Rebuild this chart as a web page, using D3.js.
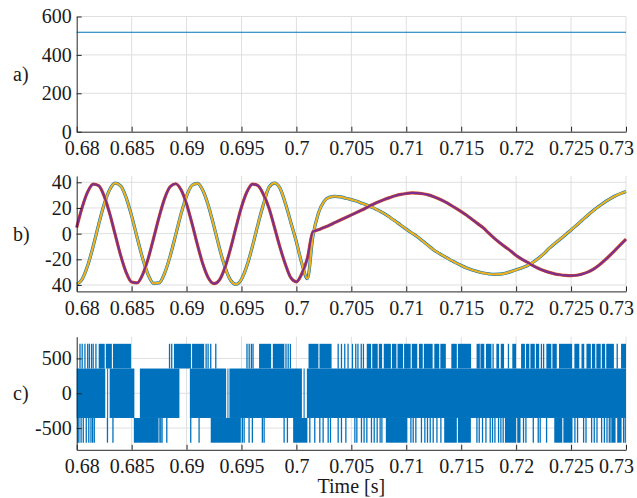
<!DOCTYPE html>
<html>
<head>
<meta charset="utf-8">
<script src="https://cdn.jsdelivr.net/npm/d3@7"></script>
<style>
  body { margin: 0; background: #fff; }
  svg { display: block; }
  svg text { font-family: "Liberation Serif", "Times New Roman", Times, serif; }
</style>
</head>
<body>
<div id="chart"></div>
<script>
// ---- shared x axis ----
const xTicks = [0.68, 0.685, 0.69, 0.695, 0.7, 0.705, 0.71, 0.715, 0.72, 0.725, 0.73];
const xTickLabels = ["0.68", "0.685", "0.69", "0.695", "0.7", "0.705", "0.71", "0.715", "0.72", "0.725", "0.73"];

// ---- a) dc link voltage ----
const dcTime = [0.68, 0.73];
const dcVoltage = [518, 518];
const aTicks = [0, 200, 400, 600];
const aTickLabels = ["0", "200", "400", "600"];

// ---- b) currents, read every 0.5 ms ----
const tB = [
  0.68, 0.6805, 0.681, 0.6815, 0.682, 0.6825, 0.683, 0.6835, 0.684, 0.6845,
  0.685, 0.6855, 0.686, 0.6865, 0.687, 0.6875, 0.688, 0.6885, 0.689, 0.6895,
  0.69, 0.6905, 0.691, 0.6915, 0.692, 0.6925, 0.693, 0.6935, 0.694, 0.6945,
  0.695, 0.6955, 0.696, 0.6965, 0.697, 0.6975, 0.698, 0.6985, 0.699, 0.6995,
  0.7, 0.7005, 0.701, 0.7015, 0.702, 0.7025, 0.703, 0.7035, 0.704, 0.7045,
  0.705, 0.7055, 0.706, 0.7065, 0.707, 0.7075, 0.708, 0.7085, 0.709, 0.7095,
  0.71, 0.7105, 0.711, 0.7115, 0.712, 0.7125, 0.713, 0.7135, 0.714, 0.7145,
  0.715, 0.7155, 0.716, 0.7165, 0.717, 0.7175, 0.718, 0.7185, 0.719, 0.7195,
  0.72, 0.7205, 0.721, 0.7215, 0.722, 0.7225, 0.723, 0.7235, 0.724, 0.7245,
  0.725, 0.7255, 0.726, 0.7265, 0.727, 0.7275, 0.728, 0.7285, 0.729, 0.7295, 0.73
];
const blueB = [
  -39.5, -35.5, -24.9, -9.8, 7.2, 22.9, 34.3, 39.4, 37.2, 28.1,
  13.8, -3.0, -19.2, -31.9, -38.7, -38.4, -30.9, -17.7, -1.3, 15.4,
  29.3, 37.7, 39.2, 33.4, 21.4, 5.5, -11.4, -26.2, -36.2, -39.5,
  -35.5, -24.9, -9.7, 7.3, 22.9, 36.0, 39.3, 35.5, 23.5, 8.5,
  -6.5, -23.5, -35.0, -2.0, 16.0, 25.0, 28.3, 29.0, 28.6, 27.6,
  26.5, 25.2, 23.6, 22.0, 20.1, 17.9, 15.6, 12.8, 9.8, 6.6,
  3.5, 0.5, -2.4, -5.8, -9.3, -12.7, -15.4, -17.9, -20.4, -22.6,
  -24.8, -26.8, -28.3, -29.6, -30.7, -31.3, -31.7, -31.6, -30.9, -29.6,
  -28.2, -26.7, -25.0, -22.5, -19.4, -15.8, -11.5, -7.8, -4.3, -0.8,
  2.9, 6.6, 10.4, 14.2, 17.8, 21.1, 24.2, 26.9, 29.3, 31.2, 32.8
];
const purpleB = [
  4.8, 20.6, 32.6, 38.6, 37.4, 29.3, 15.8, -0.6, -16.9, -30.1,
  -37.7, -38.4, -31.9, -19.6, -3.6, 13.0, 27.3, 36.5, 38.9, 34.2,
  23.1, 7.8, -9.0, -24.1, -34.8, -39.0, -36.0, -26.3, -11.8, 4.9,
  20.7, 32.6, 38.6, 37.4, 30.5, 20.0, 5.0, -10.5, -24.0, -34.5,
  -37.5, -31.0, -19.0, 1.5, 3.0, 4.8, 6.6, 8.6, 10.6, 12.6,
  14.6, 16.6, 18.6, 20.8, 22.9, 24.9, 26.6, 28.1, 29.5, 30.6,
  31.3, 31.7, 31.6, 31.1, 30.2, 28.8, 27.0, 24.9, 22.5, 19.9,
  17.2, 14.3, 11.1, 7.8, 4.6, 0.5, -3.5, -7.0, -10.3, -13.5,
  -17.0, -19.8, -22.2, -24.8, -27.0, -28.8, -30.2, -31.3, -32.0, -32.5,
  -32.7, -32.4, -31.5, -30.0, -27.9, -24.9, -21.2, -17.2, -13.0, -8.6, -4.3
];
// the yellow trace sits on the blue one and the purple on the red one
const yellowB = blueB;
const redB = purpleB;
const bSeries = [
  { name: "ia", values: blueB, color: "#0072BD", width: 3.2 },
  { name: "ib", values: redB, color: "#D95319", width: 3.2 },
  { name: "ia*", values: yellowB, color: "#EDB120", width: 2.2 },
  { name: "ib*", values: purpleB, color: "#7E2F8E", width: 2.2 }
];
const bTicks = [-40, -20, 0, 20, 40];
const bTickLabels = ["40", "-20", "0", "20", "40"];

// ---- c) phase voltage, switching bands [start, end] and single pulses ----
const levels = [-710, -355, 0, 355, 710];
const coreBlocks = [
  [0.68, 0.6826], [0.68277, 0.68283], [0.683, 0.68525], [0.68575, 0.68935],
  [0.6903, 0.6936], [0.69372, 0.69378], [0.6939, 0.7005], [0.70065, 0.70075],
  [0.70095, 0.73]
];
const upperBlocks = [
  [0.682, 0.68255], [0.68265, 0.6832], [0.6833, 0.68495], [0.68885, 0.6904],
  [0.6905, 0.6916], [0.6966, 0.6977], [0.69785, 0.6989], [0.7011, 0.702],
  [0.7021, 0.7032], [0.7064, 0.7068], [0.7069, 0.7074], [0.7075, 0.7078],
  [0.70795, 0.7086], [0.7087, 0.7091], [0.7092, 0.7097], [0.7098, 0.7104],
  [0.7105, 0.711], [0.71115, 0.7115], [0.7116, 0.7124], [0.71255, 0.713],
  [0.7131, 0.7136], [0.7141, 0.7146], [0.7147, 0.7159], [0.7164, 0.71665],
  [0.7168, 0.7171], [0.71725, 0.71775], [0.7182, 0.71845], [0.7186, 0.7189],
  [0.71965, 0.72], [0.72045, 0.7208], [0.7209, 0.7212], [0.7213, 0.7217],
  [0.7218, 0.7221], [0.72275, 0.7232], [0.7233, 0.7237], [0.7239, 0.7251],
  [0.7253, 0.72575], [0.72595, 0.7262], [0.7264, 0.7268], [0.7269, 0.7272],
  [0.7273, 0.7277], [0.7278, 0.7281], [0.7282, 0.7289], [0.72955, 0.73]
];
const upperPulses = [
  0.6803, 0.6805, 0.68075, 0.681, 0.68115, 0.68135, 0.6815, 0.68175, 0.68845, 0.68865,
  0.69178, 0.69196, 0.6922, 0.69266, 0.6955, 0.6957, 0.6959, 0.69605, 0.69905, 0.69925,
  0.69945, 0.7038, 0.7041, 0.7044, 0.7047, 0.7051, 0.7054, 0.7056, 0.7059, 0.7061,
  0.7167, 0.7179, 0.7193, 0.7223, 0.7225, 0.7292
];
const lowerBlocks = [
  [0.6852, 0.6874], [0.6922, 0.69494], [0.6997, 0.701], [0.70814, 0.7101],
  [0.71345, 0.7146], [0.7147, 0.71588], [0.71898, 0.72], [0.7201, 0.7204],
  [0.72347, 0.7242], [0.7243, 0.72513], [0.7287, 0.72905], [0.7292, 0.7296]
];
const lowerPulses = [
  0.6801, 0.6802, 0.6804, 0.6806, 0.68087, 0.6811, 0.6813, 0.68145, 0.6816, 0.6828,
  0.6833, 0.6875, 0.68765, 0.68777, 0.6882, 0.69038, 0.69114, 0.69508, 0.69524, 0.69569,
  0.69599, 0.6969, 0.69706, 0.69888, 0.69918, 0.70122, 0.70167, 0.70213, 0.70243, 0.70289,
  0.7031, 0.7038, 0.7041, 0.7045, 0.70532, 0.7055, 0.70592, 0.70616, 0.70641, 0.70683,
  0.70708, 0.70735, 0.70762, 0.70778, 0.71042, 0.71063, 0.71087, 0.71138, 0.71169, 0.71193,
  0.71218, 0.71245, 0.71279, 0.71315, 0.71643, 0.71664, 0.71694, 0.71725, 0.71764, 0.71785,
  0.71807, 0.7184, 0.71861, 0.71882, 0.72067, 0.72089, 0.72156, 0.72201, 0.72219, 0.72277,
  0.72535, 0.72559, 0.72614, 0.72636, 0.72687, 0.72711, 0.72736, 0.72778, 0.72803, 0.72827,
  0.72848, 0.72863, 0.72978, 0.72993
];
const cTicks = [-500, 0, 500];
const cTickLabels = ["-500", "0", "500"];

// ---- layout ----
const width = 637, height = 498;
const left = 76.7, right = 626;
const fontFamily = '"Liberation Serif", "Times New Roman", Times, serif';
const axisColor = "#262626";
const gridColor = "#dfdfdf";
const textColor = "#1a1a1a";
const blue = "#0072BD";

const svg = d3
  .select("#chart")
  .append("svg")
  .attr("width", width)
  .attr("height", height);

const x = d3.scaleLinear().domain([0.68, 0.73]).range([left, right]);

function drawPanel(yDomain, yRange, yTicks, yTickLabels, label) {
  const y = d3.scaleLinear().domain(yDomain).range(yRange);
  const g = svg.append("g");

  // grid
  g.append("g")
    .selectAll("line")
    .data(xTicks.slice(1))
    .enter()
    .append("line")
    .attr("x1", (d) => x(d))
    .attr("x2", (d) => x(d))
    .attr("y1", yRange[0])
    .attr("y2", yRange[1])
    .attr("stroke", gridColor)
    .attr("stroke-width", 1);
  g.append("g")
    .selectAll("line")
    .data(yTicks.filter((d) => d !== yDomain[0]))
    .enter()
    .append("line")
    .attr("x1", left)
    .attr("x2", right)
    .attr("y1", (d) => y(d))
    .attr("y2", (d) => y(d))
    .attr("stroke", gridColor)
    .attr("stroke-width", 1);

  const marks = g.append("g");

  // axes, ticks point inward
  const xAxis = g
    .append("g")
    .attr("transform", `translate(0, ${yRange[0]})`)
    .call(
      d3.axisBottom(x)
        .tickValues(xTicks)
        .tickFormat((d, i) => xTickLabels[i])
        .tickSizeInner(-5)
        .tickSizeOuter(0)
        .tickPadding(9.5)
    );
  const yAxis = g
    .append("g")
    .attr("transform", `translate(${left}, 0)`)
    .call(
      d3.axisLeft(y)
        .tickValues(yTicks)
        .tickFormat((d, i) => yTickLabels[i])
        .tickSizeInner(-5)
        .tickSizeOuter(0)
        .tickPadding(5)
    );
  [xAxis, yAxis].forEach((ax) => {
    ax.attr("font-size", 20).attr("font-family", fontFamily);
    ax.select(".domain").attr("stroke", axisColor);
    ax.selectAll(".tick line").attr("stroke", axisColor);
    ax.selectAll(".tick text").attr("fill", textColor);
  });
  // the end labels sit inside the frame, as in the figure
  xAxis.selectAll(".tick text")
    .attr("dx", (d, i) => (i === 0 ? 5 : i === xTicks.length - 1 ? -10 : 0));

  // panel letter
  svg
    .append("text")
    .attr("x", 13)
    .attr("y", y((yDomain[0] + yDomain[1]) / 2) + 7)
    .attr("font-size", 20)
    .attr("fill", textColor)
    .text(label);

  return { y, marks };
}

// a)
const pa = drawPanel([0, 600], [131.7, 16.5], aTicks, aTickLabels, "a)");
pa.marks
  .append("path")
  .datum(dcTime.map((t, i) => [t, dcVoltage[i]]))
  .attr("fill", "none")
  .attr("stroke", blue)
  .attr("stroke-width", 1.2)
  .attr("d", d3.line().x((d) => x(d[0])).y((d) => pa.y(d[1])));

// b)
const pb = drawPanel([-45, 45], [291.4, 175.9], bTicks, bTickLabels, "b)");
const lineB = d3
  .line()
  .x((d) => x(d[0]))
  .y((d) => pb.y(d[1]))
  .curve(d3.curveMonotoneX);
pb.marks
  .selectAll("path")
  .data(bSeries)
  .enter()
  .append("path")
  .attr("fill", "none")
  .attr("stroke", (d) => d.color)
  .attr("stroke-width", (d) => d.width)
  .attr("stroke-linejoin", "round")
  .attr("d", (d) => lineB(tB.map((t, i) => [t, d.values[i]])));

// c)
const pc = drawPanel([-812, 812], [449.8, 336.7], cTicks, cTickLabels, "c)");
const bands = [
  { blocks: coreBlocks, pulses: [], lo: levels[1], hi: levels[3] },
  { blocks: upperBlocks, pulses: upperPulses, lo: levels[3], hi: levels[4] },
  { blocks: lowerBlocks, pulses: lowerPulses, lo: levels[0], hi: levels[1] }
];
bands.forEach((b) => {
  pc.marks
    .append("g")
    .selectAll("rect")
    .data(b.blocks)
    .enter()
    .append("rect")
    .attr("x", (d) => x(d[0]))
    .attr("width", (d) => Math.max(1, x(d[1]) - x(d[0])))
    .attr("y", pc.y(b.hi))
    .attr("height", pc.y(b.lo) - pc.y(b.hi))
    .attr("fill", blue);
  pc.marks
    .append("g")
    .selectAll("line")
    .data(b.pulses)
    .enter()
    .append("line")
    .attr("x1", (d) => x(d))
    .attr("x2", (d) => x(d))
    .attr("y1", pc.y(b.hi))
    .attr("y2", pc.y(b.lo))
    .attr("stroke", blue)
    .attr("stroke-width", 1.3);
});

// x label
svg
  .append("text")
  .attr("x", (left + right) / 2)
  .attr("y", 493)
  .attr("text-anchor", "middle")
  .attr("font-size", 20)
  .attr("fill", textColor)
  .text("Time [s]");
</script>
</body>
</html>
